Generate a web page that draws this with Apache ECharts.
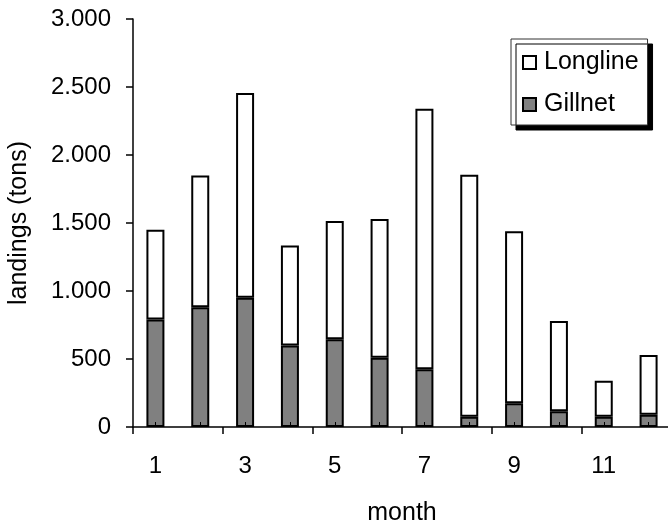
<!DOCTYPE html>
<html>
<head>
<meta charset="utf-8">
<script src="https://cdn.jsdelivr.net/npm/echarts@6/dist/echarts.min.js"></script>
<style>
  html, body { margin: 0; padding: 0; background: #fff; }
  #chart { width: 668px; height: 525px; }
</style>
</head>
<body>
<div id="chart"></div>
<script>
// months along the x axis
const months = ['1', '2', '3', '4', '5', '6', '7', '8', '9', '10', '11', '12']
// landings in tons
const gillnet = [790, 880, 950, 600, 645, 510, 425, 75, 175, 115, 75, 90]
const longline = [660, 970, 1505, 735, 870, 1020, 1915, 1780, 1265, 665, 265, 440]

const FONT = '"Liberation Sans", Arial, sans-serif'
const fmt = v => String(v).replace(/\B(?=(\d{3})+(?!\d))/g, '.')

const chart = echarts.init(document.getElementById('chart'), null, { renderer: 'canvas' })

chart.setOption({
  animation: false,
  textStyle: { fontFamily: FONT, color: '#000' },
  // plot runs a little past the right edge, as in the original
  grid: { left: 133, top: 19, width: 538, height: 408, outerBoundsMode: 'none', containLabel: false },
  legend: {
    orient: 'vertical',
    left: 511,
    top: 39,
    data: ['Longline', 'Gillnet'],
    icon: 'rect',
    itemWidth: 13,
    itemHeight: 13,
    itemGap: 17,
    padding: [11, 9, 8, 11],
    backgroundColor: '#fff',
    borderColor: '#333',
    borderWidth: 1,
    shadowColor: '#000',
    shadowBlur: 0,
    shadowOffsetX: 5,
    shadowOffsetY: 5,
    textStyle: { fontFamily: FONT, fontSize: 25, color: '#000', padding: [0, 0, 0, 3] },
  },
  xAxis: [
    {
      type: 'category',
      data: months,
      name: 'month',
      nameLocation: 'middle',
      nameGap: 74,
      nameTextStyle: { fontFamily: FONT, fontSize: 25, color: '#000' },
      axisLine: { lineStyle: { color: '#000', width: 1.5 } },
      axisTick: { show: true, inside: false, length: 7, alignWithLabel: false, lineStyle: { color: '#000', width: 1.5 } },
      axisLabel: { interval: 1, margin: 27, fontSize: 24, color: '#000', fontFamily: FONT },
      splitLine: { show: false },
    },
    {
      // small inside ticks at the category centres
      type: 'category',
      data: months,
      position: 'bottom',
      z: 10,
      axisLine: { show: false },
      axisTick: { show: true, inside: true, length: 5, alignWithLabel: true, lineStyle: { color: '#000', width: 1 } },
      axisLabel: { show: false },
      splitLine: { show: false },
    },
  ],
  yAxis: {
    type: 'value',
    min: 0,
    max: 3000,
    interval: 500,
    name: 'landings (tons)',
    nameLocation: 'middle',
    nameGap: 101,
    nameTextStyle: { fontFamily: FONT, fontSize: 25, color: '#000' },
    axisLine: { show: true, lineStyle: { color: '#000', width: 1.5 } },
    axisTick: { show: true, length: 7, lineStyle: { color: '#000', width: 1.5 } },
    axisLabel: { margin: 22, fontSize: 24, color: '#000', fontFamily: FONT, formatter: fmt },
    splitLine: { show: false },
  },
  series: [
    {
      name: 'Gillnet',
      type: 'bar',
      stack: 'total',
      data: gillnet,
      barWidth: 18,
      itemStyle: { color: '#808080', borderColor: '#000', borderWidth: 2 },
    },
    {
      name: 'Longline',
      type: 'bar',
      stack: 'total',
      data: longline,
      barWidth: 18,
      itemStyle: { color: '#fff', borderColor: '#000', borderWidth: 2 },
    },
  ],
})
</script>
</body>
</html>
